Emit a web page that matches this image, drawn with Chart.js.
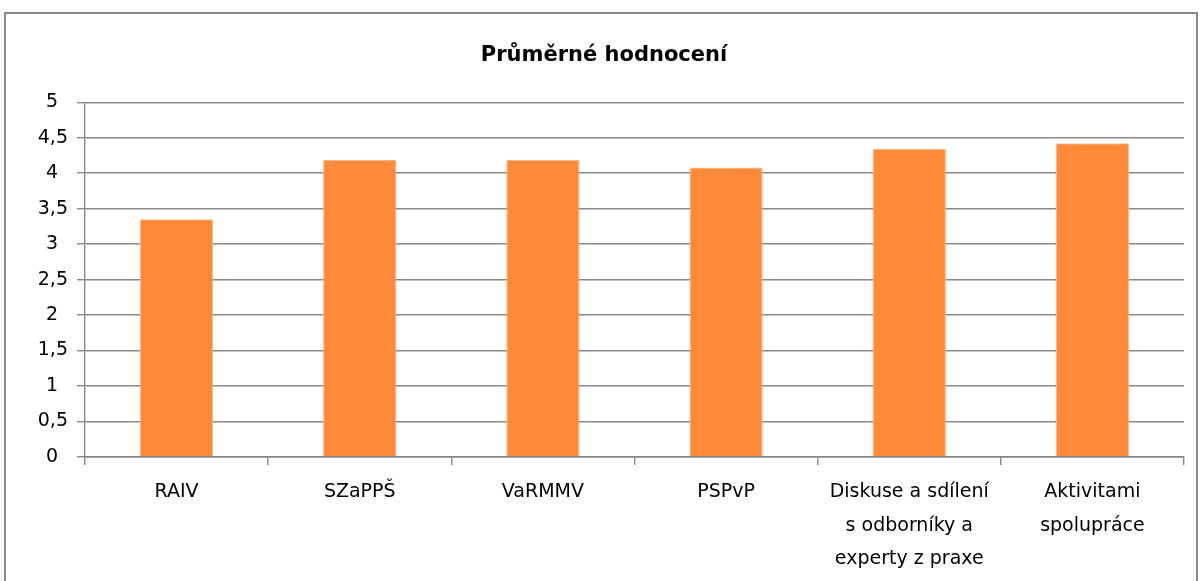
<!DOCTYPE html>
<html>
<head>
<meta charset="utf-8">
<script src="https://cdn.jsdelivr.net/npm/chart.js@4.4.0/dist/chart.umd.min.js"></script>
<style>
  body { margin: 0; background: #fff; }
  #wrap { position: relative; width: 1202px; height: 581px; }
  #frame { position: absolute; left: 4px; top: 12px; width: 1194px; height: 600px; border: 2px solid #8a8a8a; box-sizing: border-box; }
  canvas { position: absolute; left: 0; top: 0; }
</style>
</head>
<body>
<div id="wrap">
  <div id="frame"></div>
  <canvas id="chart" width="1202" height="581"></canvas>
</div>
<script>
// categories + average scores
const categories = [
  "RAIV",
  "SZaPPŠ",
  "VaRMMV",
  "PSPvP",
  ["Diskuse a sdílení", "s odborníky a", "experty z praxe"],
  ["Aktivitami", "spolupráce"]
];
const scores = [3.35, 4.19, 4.19, 4.08, 4.34, 4.42];
const yTicks = [0, 0.5, 1, 1.5, 2, 2.5, 3, 3.5, 4, 4.5, 5];

const fontFamily = "'DejaVu Sans', sans-serif";
const gridColor = "#888888";

// whole numbers sit a bit left of the "x,5" ones, like in the original
function yLabel(v) {
  if (Number.isInteger(v)) return v + "\u2008\u2009";
  return String(v).replace(".", ",");
}

const ctx = document.getElementById("chart").getContext("2d");
new Chart(ctx, {
  type: "bar",
  data: {
    labels: categories,
    datasets: [{
      data: scores,
      backgroundColor: "#fd8939",
      borderColor: "#fdb98a",
      borderWidth: 1,
      barPercentage: 0.4,
      categoryPercentage: 1
    }]
  },
  options: {
    responsive: false,
    animation: false,
    layout: { padding: { left: 24, right: 18, top: 0, bottom: 0 } },
    plugins: {
      legend: { display: false },
      tooltip: { enabled: false },
      title: {
        display: true,
        text: "Průměrné hodnocení",
        color: "#000",
        font: { family: fontFamily, size: 21, weight: "bold" },
        padding: { top: 43, bottom: 34 }
      }
    },
    scales: {
      y: {
        min: 0,
        max: 5,
        afterBuildTicks: s => { s.ticks = yTicks.map(v => ({ value: v })); },
        afterFit: s => { s.width = 61; },
        ticks: {
          color: "#000",
          padding: 9,
          font: { family: fontFamily, size: 19 },
          callback: yLabel
        },
        grid: { color: gridColor, lineWidth: 1.4, tickLength: 8 },
        border: { color: gridColor, width: 1.4 }
      },
      x: {
        afterFit: s => { s.height = 124; },
        ticks: {
          color: "#000",
          padding: 10,
          maxRotation: 0,
          autoSkip: false,
          font: { family: fontFamily, size: 19, lineHeight: 1.78 }
        },
        grid: { display: true, drawOnChartArea: false, offset: true, color: gridColor, lineWidth: 1.4, tickLength: 8 },
        border: { color: gridColor, width: 1.4 }
      }
    }
  }
});
</script>
</body>
</html>
